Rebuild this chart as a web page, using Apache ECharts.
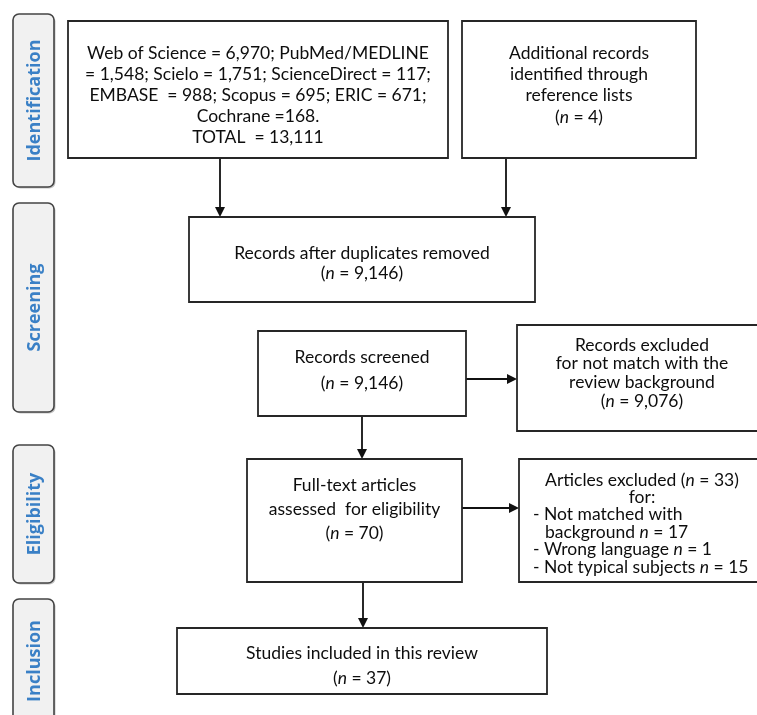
<!DOCTYPE html>
<html><head><meta charset="utf-8">
<script src="https://cdn.jsdelivr.net/npm/echarts@6/dist/echarts.min.js"></script>
<style>html,body{margin:0;padding:0;background:#fff}#c{width:757px;height:715px}</style>
</head><body><div id="c"></div>
<script>
// ---------- data ----------
const stageNames = ['Identification', 'Screening', 'Eligibility', 'Inclusion'];
const databaseNames = ['Web of Science', 'PubMed/MEDLINE', 'Scielo', 'ScienceDirect', 'EMBASE', 'Scopus', 'ERIC', 'Cochrane'];
const databaseRecords = [6970, 1548, 1751, 117, 988, 695, 671, 168];
const totalRecords = 13111;
const additionalRecords = 4;
const recordsAfterDuplicates = 9146;
const recordsScreened = 9146;
const recordsExcluded = 9076;
const fullTextAssessed = 70;
const articlesExcluded = 33;
const exclusionReasons = ['Not matched with', 'background', 'Wrong language', 'Not typical subjects'];
const exclusionCounts = [17, 1, 15];
const studiesIncluded = 37;

// ---------- text built from data ----------
const f = v => v.toLocaleString('en-US');
const N = v => '({i|n} = ' + f(v) + ')';
const d = databaseNames, r = databaseRecords;
const boxLines = [
  [
    d[0] + ' = ' + f(r[0]) + '; ' + d[1],
    '= ' + f(r[1]) + '; ' + d[2] + ' = ' + f(r[2]) + '; ' + d[3] + ' = ' + f(r[3]) + ';',
    d[4] + '  = ' + f(r[4]) + '; ' + d[5] + ' = ' + f(r[5]) + '; ' + d[6] + ' = ' + f(r[6]) + ';',
    d[7] + ' =' + f(r[7]) + '.',
    'TOTAL  = ' + f(totalRecords)
  ],
  ['Additional records', 'identified through', 'reference lists', N(additionalRecords)],
  ['Records after duplicates removed', N(recordsAfterDuplicates)],
  ['Records screened', N(recordsScreened)],
  ['Records excluded', 'for not match with the', 'review background', N(recordsExcluded)],
  ['Full-text articles', 'assessed  for eligibility', N(fullTextAssessed)],
  [
    'Articles excluded ' + N(articlesExcluded),
    'for:',
    '- ' + exclusionReasons[0],
    exclusionReasons[1] + ' {i|n} = ' + exclusionCounts[0],
    '- ' + exclusionReasons[2] + ' {i|n} = ' + exclusionCounts[1],
    '- ' + exclusionReasons[3] + ' {i|n} = ' + exclusionCounts[2]
  ],
  ['Studies included in this review', N(studiesIncluded)]
];

// ---------- layout (diagram px space 757 x 715) ----------
const boxLayout = [
  { x: 68, y: 21, w: 380, h: 137, top: 53, gap: 21 },
  { x: 462, y: 21, w: 234, h: 137, top: 53, gap: 21.3 },
  { x: 189, y: 217, w: 346, h: 85, top: 253, gap: 20 },
  { x: 258, y: 331, w: 208, h: 85, top: 357, gap: 26 },
  { x: 517, y: 325, w: 250, h: 106, top: 345, gap: 18.7 },
  { x: 247, y: 459, w: 215, h: 123, top: 485, gap: 24 },
  { x: 519, y: 459, w: 250, h: 123, top: 480, gap: 17.4,
    lx: [642, 642, 533, 545, 533, 533], la: ['center', 'center', 'left', 'left', 'left', 'left'] },
  { x: 177, y: 628, w: 370, h: 66, top: 653, gap: 25 }
];
const arrowLayout = [
  [220, 158, 220, 217], [506, 158, 506, 217], [362, 416, 362, 459],
  [466, 379, 517, 379], [462, 508, 519, 508], [363, 582, 363, 628]
];
const tabLayout = [
  [13, 14, 41, 173], [13, 203, 41, 209], [13, 445, 41, 138], [13, 599, 41, 124]
];

const FONT = '17.5px Lato';
const FONT_I = 'italic 17.5px Lato';

function renderBox(params, api) {
  const b = boxLayout[params.dataIndex];
  const p0 = api.coord([b.x, b.y]);
  const p1 = api.coord([b.x + b.w, b.y + b.h]);
  const children = [{
    type: 'rect',
    shape: { x: p0[0], y: p0[1], width: p1[0] - p0[0], height: p1[1] - p0[1] },
    style: { fill: '#fff', stroke: '#262626', lineWidth: 1.8 }
  }];
  boxLines[params.dataIndex].forEach((ln, k) => {
    const cx = b.lx ? b.lx[k] : b.x + b.w / 2;
    const pt = api.coord([cx, b.top + k * b.gap]);
    const al = b.la ? b.la[k] : 'center';
    children.push({
      type: 'text',
      style: {
        text: ln, x: pt[0], y: pt[1], align: al, verticalAlign: 'middle',
        textAlign: al, textVerticalAlign: 'middle',
        font: FONT, fill: '#0d0d0d',
        rich: { i: { font: FONT_I, fill: '#0d0d0d' } }
      }
    });
  });
  return { type: 'group', children };
}

function renderArrow(params, api) {
  const a = arrowLayout[params.dataIndex];
  const s = api.coord([a[0], a[1]]);
  const e = api.coord([a[2], a[3]]);
  const dx = e[0] - s[0], dy = e[1] - s[1];
  const len = Math.sqrt(dx * dx + dy * dy);
  const ux = dx / len, uy = dy / len;
  const hl = 10, hw = 5;
  const bx = e[0] - ux * hl, by = e[1] - uy * hl;
  return {
    type: 'group',
    children: [
      { type: 'line', shape: { x1: s[0], y1: s[1], x2: bx, y2: by }, style: { stroke: '#111', lineWidth: 1.8 } },
      { type: 'polygon', shape: { points: [[e[0], e[1]], [bx - uy * hw, by + ux * hw], [bx + uy * hw, by - ux * hw]] }, style: { fill: '#111' } }
    ]
  };
}

function renderTab(params, api) {
  const t = tabLayout[params.dataIndex];
  const p0 = api.coord([t[0], t[1]]);
  const p1 = api.coord([t[0] + t[2], t[1] + t[3]]);
  const w = p1[0] - p0[0], h = p1[1] - p0[1];
  return {
    type: 'group',
    children: [
      { type: 'rect', shape: { x: p0[0] + 1.5, y: p0[1] + 1.5, width: w, height: h, r: 6 }, style: { fill: '#c4c4c4' } },
      { type: 'rect', shape: { x: p0[0], y: p0[1], width: w, height: h, r: 6 }, style: { fill: '#f1f1f1', stroke: '#444', lineWidth: 1.6 } },
      {
        type: 'text', x: p0[0] + w / 2 + 1, y: p0[1] + h / 2, rotation: Math.PI / 2,
        style: {
          text: stageNames[params.dataIndex], align: 'center', verticalAlign: 'middle',
          textAlign: 'center', textVerticalAlign: 'middle',
          font: 'bold 18px "Open Sans"', fill: '#3a80c6'
        }
      }
    ]
  };
}

const chart = echarts.init(document.getElementById('c'), null, { renderer: 'canvas' });
chart.setOption({
  animation: false,
  backgroundColor: '#ffffff',
  grid: { left: 0, right: 0, top: 0, bottom: 0 },
  xAxis: { type: 'value', min: 0, max: 757, show: false },
  yAxis: { type: 'value', min: 0, max: 715, inverse: true, show: false },
  series: [
    { type: 'custom', name: 'stages', clip: false, silent: true, renderItem: renderTab, data: stageNames.map((s, i) => [i]) },
    { type: 'custom', name: 'arrows', clip: false, silent: true, renderItem: renderArrow, data: arrowLayout.map((a, i) => [i]) },
    { type: 'custom', name: 'boxes', clip: false, silent: true, renderItem: renderBox, data: boxLines.map((b, i) => [i]) }
  ]
});
</script></body></html>
